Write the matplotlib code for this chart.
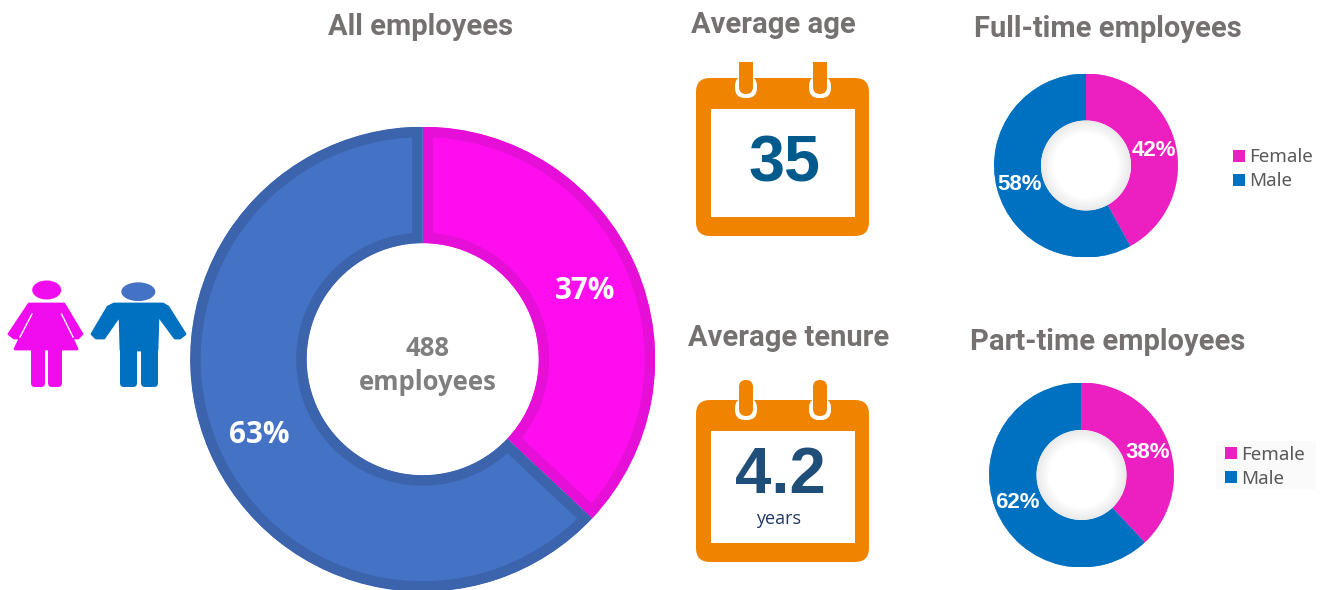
import matplotlib
matplotlib.use('Agg')
import matplotlib.pyplot as plt
from matplotlib.patches import Circle, Ellipse, FancyBboxPatch, Polygon, Rectangle

W = 1327
H = 590

# ------------------------------------------------------------------
# DATA
# ------------------------------------------------------------------
genders = ['Female', 'Male']
all_employees = [37, 63]
full_time = [42, 58]
part_time = [38, 62]
total_employees = 488
average_age = 35
average_tenure = 4.2

GRAY = '#767171'
ORANGE = '#F08300'


def px_axes(fig, cx, cy, r):
    # square axes centred on a pixel position, y counted from the top
    ax = fig.add_axes([(cx - r) / W, 1 - (cy + r) / H, 2 * r / W, 2 * r / H])
    ax.set_xlim(-1, 1)
    ax.set_ylim(-1, 1)
    ax.axis('off')
    return ax


def rounded(ax, x0, y0, x1, y1, rad, color, zorder=2, **kw):
    ax.add_patch(FancyBboxPatch((x0 + rad, y0 + rad), x1 - x0 - 2 * rad, y1 - y0 - 2 * rad,
                                boxstyle='round,pad=%f,rounding_size=%f' % (rad, rad),
                                fc=color, ec='none', zorder=zorder, **kw))


def donut(fig, cx, cy, r, hole, values, colors, edges, stroke_px, fontsize, family, nudges):
    ax = px_axes(fig, cx, cy, r)
    wedges, texts, auto = ax.pie(values, colors=colors, startangle=90, counterclock=False,
                                 radius=1, autopct='%d%%', pctdistance=0.75,
                                 wedgeprops=dict(width=1 - hole / r))
    for w, e in zip(wedges, edges):
        # stroke on the inside of the wedge only: double width, clipped to itself
        w.set_edgecolor(e)
        w.set_linewidth(2 * stroke_px * 0.72)
        w.set_clip_on(True)
        w.set_clip_path(w)
    for t, (dx, dy) in zip(auto, nudges):
        t.set_color('white')
        t.set_fontsize(fontsize)
        t.set_fontweight('bold')
        t.set_family(family)
        x, y = t.get_position()
        t.set_position((x + dx / r, y - dy / r))
    ax.set_xlim(-1, 1)
    ax.set_ylim(-1, 1)
    return ax, wedges


def shaded_hole(ax, r_frac):
    # soft grey rim inside the small donuts
    steps = 12
    for i in range(steps):
        f = 1 - i * 0.025
        shade = 0.91 + 0.09 * (i + 1) / steps
        ax.add_patch(Circle((0, 0), r_frac * f, fc=(shade, shade, shade), ec='none', zorder=5))


def calendar(ax, top, bottom, inner_top, inner_bottom, ring_top, ring_bottom):
    rounded(ax, 696, top, 869, bottom, 14, ORANGE, zorder=2)
    ax.add_patch(Rectangle((711, inner_top), 144, inner_bottom - inner_top, fc='white', ec='none', zorder=3))
    for x0 in (735, 809):
        rounded(ax, x0, top - 2, x0 + 22, ring_bottom, 10, 'white', zorder=3)
        rounded(ax, x0 + 4, ring_top, x0 + 18, ring_bottom - 4, 7, ORANGE, zorder=4)


def main():
    fig = plt.figure(figsize=(W / 100, H / 100), dpi=100, facecolor='white')

    # ------------------------------------------------------------------
    # DONUTS
    # ------------------------------------------------------------------
    donut(fig, 422.7, 359.2, 232.5, 116, all_employees, ['#FF0DEE', '#4472C4'], ['#E60FD8', '#3B64AD'],
          10.5, 21.3, 'Open Sans', [(2.5, 1), (-3, 7)])

    ax1, w1 = donut(fig, 1086, 165.5, 92, 45, full_time, ['#EC20C0', '#0070C0'], ['#EC20C0', '#0070C0'],
                    0.5, 16, 'Liberation Sans', [(1, 2), (0, 2)])
    shaded_hole(ax1, 45 / 92)

    ax2, w2 = donut(fig, 1081.5, 475, 92.5, 45, part_time, ['#EC20C0', '#0070C0'], ['#EC20C0', '#0070C0'],
                    0.5, 16, 'Liberation Sans', [(1.5, 3), (0, 2)])
    shaded_hole(ax2, 45 / 92.5)

    # ------------------------------------------------------------------
    # OVERLAY IN PIXEL COORDINATES
    # ------------------------------------------------------------------
    ov = fig.add_axes([0, 0, 1, 1], zorder=10)
    ov.set_xlim(0, W)
    ov.set_ylim(H, 0)
    ov.axis('off')
    ov.patch.set_alpha(0)

    # flat cut at the bottom of the part-time donut
    ov.add_patch(Rectangle((980, 567), 200, 23, fc='white', ec='none', zorder=1))

    # titles
    for x, y, s in [(421, 27, 'All employees'), (773, 25, 'Average age'), (1108, 29, 'Full-time employees'),
                    (789, 338, 'Average tenure'), (1108, 342, 'Part-time employees')]:
        ov.text(x, y, s, ha='center', va='center', fontsize=21, fontweight='bold', color=GRAY,
                family='Roboto')

    # centre of main donut
    ov.text(428, 349, str(total_employees), ha='center', va='center', fontsize=18.5, fontweight='bold',
            color='#7F7F7F', family='Open Sans')
    ov.text(428, 383, 'employees', ha='center', va='center', fontsize=18.5, fontweight='bold',
            color='#7F7F7F', family='Open Sans')

    # calendars
    calendar(ov, 78, 236, 109, 217, 50, 98)
    calendar(ov, 400, 562, 431, 543, 380, 420)
    ov.add_patch(Rectangle((730, 50), 105, 12, fc='white', ec='none', zorder=5))
    ov.add_patch(Rectangle((805, 50), 30, 12, fc='white', ec='none', zorder=5))
    ov.text(784, 165, str(average_age), ha='center', va='center', fontsize=46.5, fontweight='bold',
            color='#005A8C', family='Liberation Sans')
    ov.text(780, 476, str(average_tenure), ha='center', va='center', fontsize=47, fontweight='bold',
            color='#1F4E79', family='Liberation Sans')
    ov.text(779, 519, 'years', ha='center', va='center', fontsize=13, color='#1F3864', family='Open Sans')

    # woman pictogram
    pink = '#F00CEE'
    ov.add_patch(Ellipse((46.7, 290), 29, 19, fc=pink, ec='none'))
    ov.add_patch(Polygon([(29, 304), (64, 304), (82, 334), (78, 338), (74, 338), (62, 316),
                          (77, 349), (15, 349), (31, 316), (19, 338), (14, 338), (9, 334)],
                         closed=True, fc=pink, ec=pink, lw=2, joinstyle='round'))
    ov.plot([61.5, 73], [314, 337], color='white', lw=1, zorder=3)
    ov.plot([32, 20], [314, 337], color='white', lw=1, zorder=3)
    rounded(ov, 31, 345, 45, 387, 4, pink)
    rounded(ov, 48, 345, 62, 387, 4, pink)

    # man pictogram
    blue = '#0070C0'
    ov.add_patch(Ellipse((138.3, 291.7), 34, 18.7, fc='#4472C4', ec='none'))
    ov.add_patch(Polygon([(114, 304), (163, 304), (168, 307), (185, 334), (180, 338), (175, 338), (158, 315),
                          (157, 350), (121, 350), (120, 315), (104, 338), (96, 338), (92, 334), (108, 307)],
                         closed=True, fc=blue, ec=blue, lw=2, joinstyle='round'))
    rounded(ov, 120, 345, 137, 387, 4, blue)
    rounded(ov, 141, 345, 158, 387, 4, blue)

    # legends
    ov.add_patch(Rectangle((1216, 441), 100, 48, fc='#FAFAFA', ec='none', zorder=1))
    for x, y0 in [(1233, 155.5), (1225, 453)]:
        for i, name in enumerate(genders):
            y = y0 + i * 24
            ov.add_patch(Rectangle((x, y - 6), 12, 12, fc=w1[i].get_facecolor(), ec='none', zorder=2))
            ov.text(x + 16, y + 1.5, name, ha='left', va='center', fontsize=13.5, color='#595959',
                    family='Noto Sans', zorder=3)

    fig.savefig('out.png', dpi=100)


if __name__ == "__main__":
    main()
